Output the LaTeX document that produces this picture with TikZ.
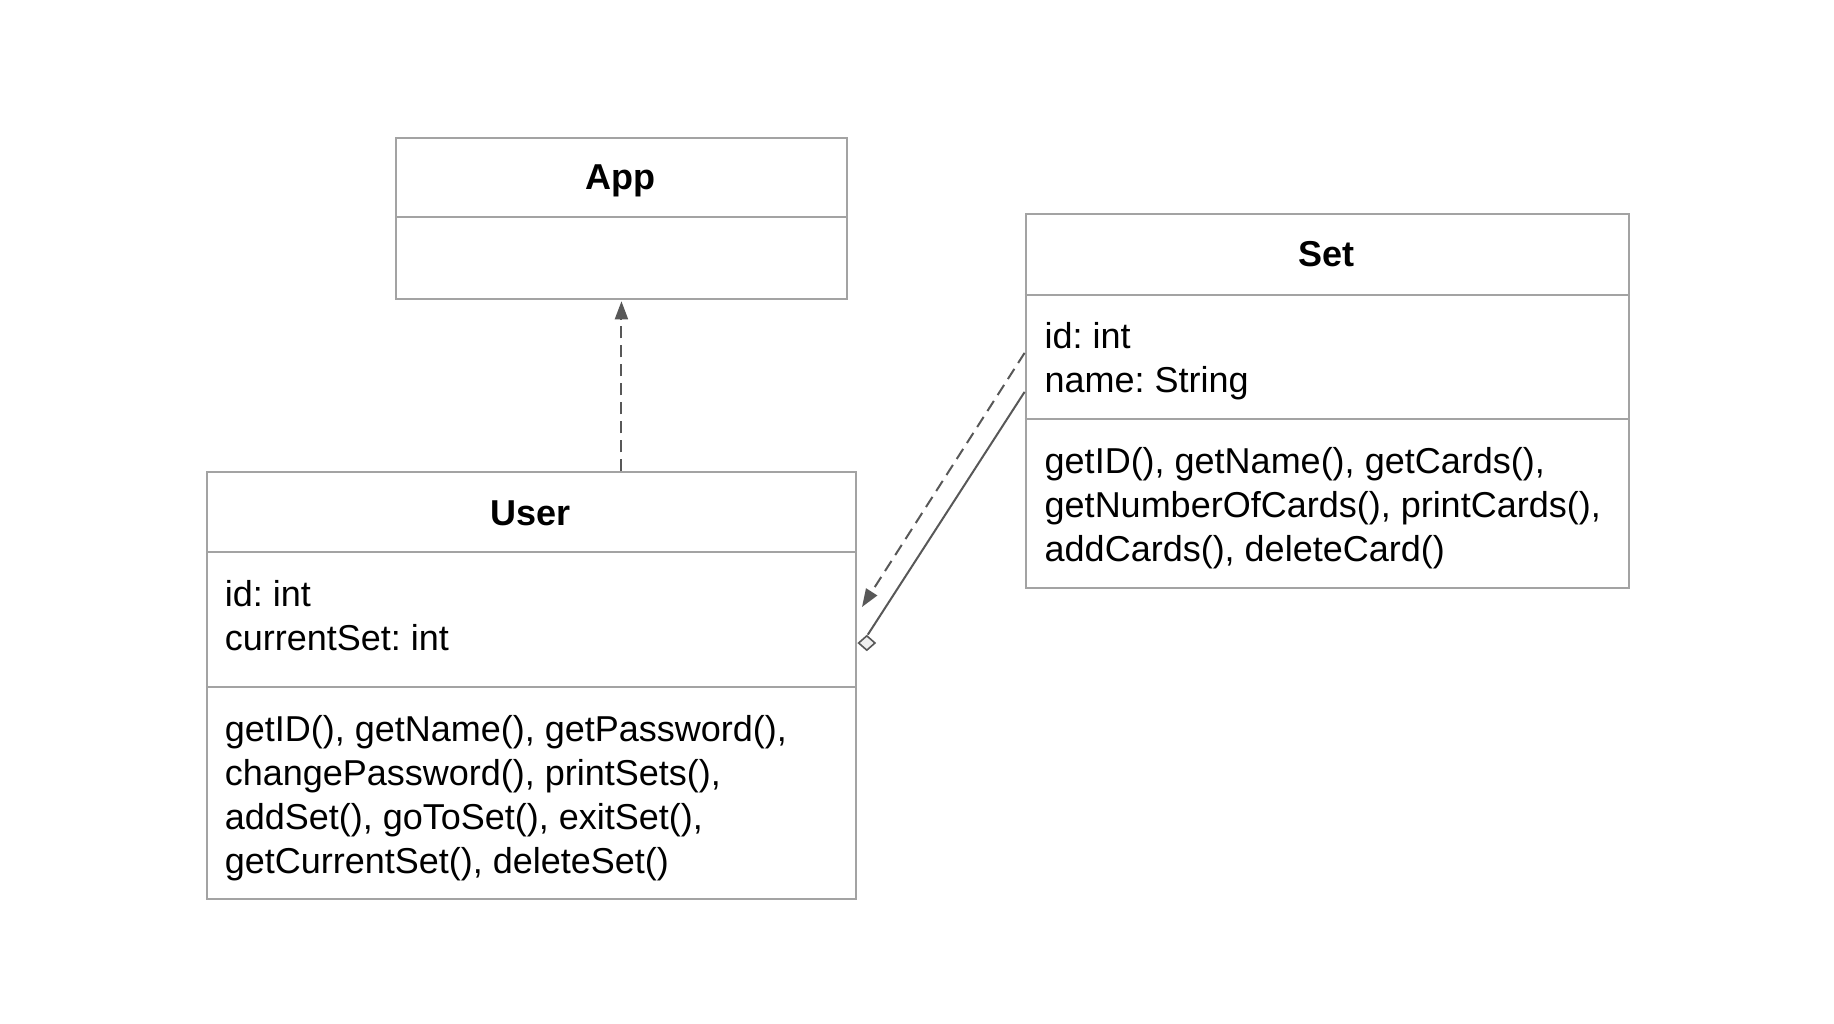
\documentclass[tikz,border=0pt]{standalone}
\usepackage{fontspec}
\setmainfont{Liberation Sans}
\usetikzlibrary{arrows.meta,calc,shapes.geometric}
\definecolor{boxline}{RGB}{163,163,163}
\definecolor{linkline}{RGB}{88,88,88}
\definecolor{diafill}{RGB}{240,240,240}
\tikzset{
  classbox/.style={draw=boxline, line width=2pt, rectangle, inner sep=0pt,
    anchor=north west, fill=white},
  divider/.style={draw=boxline, line width=2pt},
  title/.style={inner sep=0pt, anchor=base, font=\fontsize{36}{44}\selectfont\bfseries},
  body/.style={inner sep=0pt, anchor=base west, align=left,
    font=\fontsize{36}{44}\selectfont\frenchspacing},
  dep/.style={draw=linkline, line width=2pt, dash pattern=on 12pt off 7pt,
    -{Triangle[length=18pt,width=13pt]}},
  agg/.style={draw=linkline, line width=2pt},
  aggdiamond/.style={diamond, draw=linkline, line width=1.6pt, fill=diafill,
    inner sep=0pt, minimum width=17pt, minimum height=15pt, anchor=west},
}
\begin{document}
\begin{tikzpicture}[x=1pt,y=-1pt]
  \useasboundingbox (0,0) rectangle (1834,1024);

  % App class
  \node[classbox, minimum width=450.3pt, minimum height=161.5pt] (app) at (395.3,136.8) {};
  \draw[divider] ([yshift=-80.7pt]app.north west) -- ([yshift=-80.7pt]app.north east);
  \node[title] (apptitle) at (620.5,190) {App};

  % Set class (text nodes are placed by the baseline of their last line)
  \node[classbox, minimum width=603.4pt, minimum height=374.2pt] (set) at (1024.6,212.9) {};
  \draw[divider] ([yshift=-81.8pt]set.north west) -- ([yshift=-81.8pt]set.north east);
  \draw[divider] ([yshift=-205.8pt]set.north west) -- ([yshift=-205.8pt]set.north east);
  \node[title] (settitle) at (1326.3,267) {Set};
  \node[body] (setattr) at (1044.5,392.5) {id: int\\name: String};
  \node[body] (setops) at (1044.5,561.7)
    {getID(), getName(), getCards(),\\getNumberOfCards(), printCards(),\\addCards(), deleteCard()};

  % User class
  \node[classbox, minimum width=649.1pt, minimum height=427pt] (user) at (205.9,471.3) {};
  \draw[divider] ([yshift=-80.7pt]user.north west) -- ([yshift=-80.7pt]user.north east);
  \draw[divider] ([yshift=-215.3pt]user.north west) -- ([yshift=-215.3pt]user.north east);
  \node[title] (usertitle) at (530.5,525) {User};
  \node[body] (userattr) at (224.6,650) {id: int\\currentSet: int};
  \node[body] (userops) at (224.6,873.5)
    {getID(), getName(), getPassword(),\\changePassword(), printSets(),\\addSet(), goToSet(), exitSet(),\\getCurrentSet(), deleteSet()};

  % connector end points on the class borders
  \coordinate (depstart) at ([yshift=-140pt]set.north west);
  \coordinate (aggstart) at ([yshift=-179pt]set.north west);
  \coordinate (depend) at ([xshift=5pt,yshift=-135.7pt]user.north east);
  \node[aggdiamond] (aggtip) at ([xshift=0.5pt,yshift=-171.7pt]user.north east) {};

  % User depends on App
  \draw[dep] (app.south |- user.north) -- ([yshift=-1pt]app.south);
  % Set uses User
  \draw[dep] (depstart) -- (depend);
  % User aggregates Set
  \draw[agg] (aggstart) -- ([xshift=1pt]aggtip.north);
\end{tikzpicture}
\end{document}
